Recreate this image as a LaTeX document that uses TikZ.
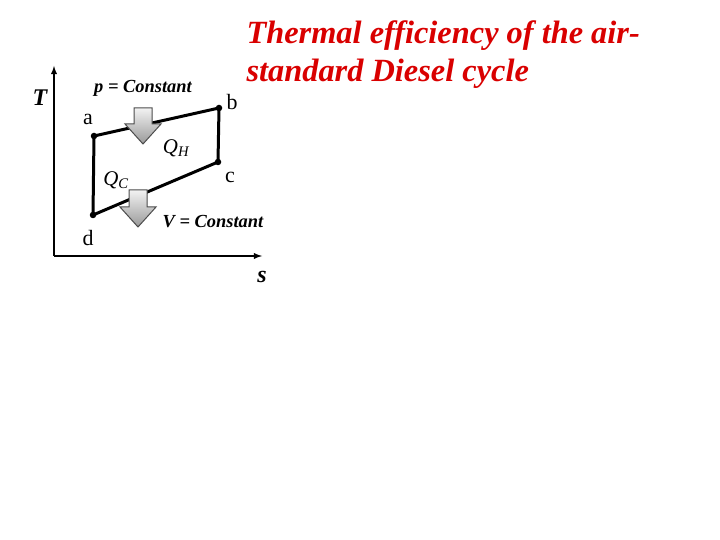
\documentclass[tikz,border=0pt]{standalone}
\usepackage{fontspec}
\setmainfont{Liberation Serif}
\begin{document}
\begin{tikzpicture}[x=1bp,y=-1bp,
  pt/.style={circle,fill=black,inner sep=0pt,minimum size=6.5bp},
  lbl/.style={font=\fontsize{22}{22}\selectfont},
  cst/.style={font=\fontsize{18.5}{18.5}\selectfont\bfseries\itshape},
  cyc/.style={line width=3bp},
  heat/.style={draw=black!70,line width=1bp,top color=gray!10,bottom color=gray!80}]
\useasboundingbox (0,0) rectangle (720,540);
% axes
\coordinate (o) at (54,256);
\coordinate (ytop) at (54,66);
\coordinate (xend) at (262,256);
\draw[line width=1.8bp,-latex] (o) -- (ytop);
\draw[line width=1.8bp,-latex] (o) -- (xend);
% points
\node[pt] (a) at (94,136) {};
\node[pt] (b) at (219,108) {};
\node[pt] (c) at (218,162) {};
\node[pt] (d) at (93,215) {};
\draw[cyc] (a.center) -- (b.center) -- (c.center) -- (d.center) -- cycle;
% heat arrows
\path[heat] (134,108) -- (152,108) -- (152,124) -- (161,124) -- (143,144) -- (125,124) -- (134,124) -- cycle;
\path[heat] (129,190) -- (147,190) -- (147,207) -- (156,207) -- (138,227) -- (120,207) -- (129,207) -- cycle;
% labels
\node[font=\fontsize{24}{24}\selectfont\bfseries\itshape] (T) at (40,98) {T};
\node[font=\fontsize{24}{24}\selectfont\bfseries\itshape] (s) at (262,277) {s};
\node[cst] (pc) at (143,88) {p = Constant};
\node[cst] (vc) at (213,222) {V = Constant};
\node[lbl] (la) at (88,119) {a};
\node[lbl] (lb) at (232,102) {b};
\node[lbl] (lc) at (230,177) {c};
\node[lbl] (ld) at (88,238) {d};
\node[lbl,font=\fontsize{21}{21}\selectfont\itshape] (qh) at (176,148) {Q\textsubscript{\itshape H}};
\node[lbl,font=\fontsize{21}{21}\selectfont\itshape] (qc) at (116,180) {Q\textsubscript{\itshape C}};
% title
\node[anchor=west,text=red!85!black,font=\fontsize{32.5}{38}\selectfont\bfseries\itshape,align=left] (title) at (243,55) {Thermal efficiency of the air-\\standard Diesel cycle};
\end{tikzpicture}
\end{document}
